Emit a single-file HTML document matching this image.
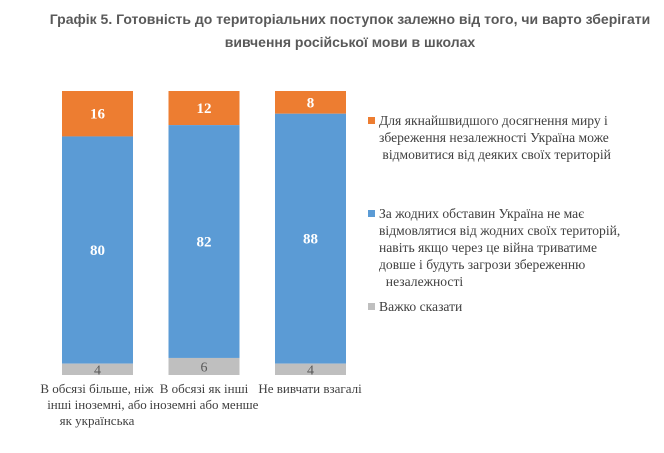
<!DOCTYPE html>
<html><head><meta charset="utf-8"><style>
body{margin:0;background:#fff;width:664px;height:453px;overflow:hidden;position:relative;font-family:"Liberation Serif",serif}
#title{position:absolute;left:30px;width:640px;top:8px;text-align:center;font:bold 14px/23px "Liberation Sans",sans-serif;color:#595959}
.leg{position:absolute;left:368px;font-size:13.6px;line-height:17px;color:#404040;width:255px}
.leg i{position:absolute;left:0;top:5px;width:7px;height:7px}
.leg span{display:block;margin-left:11px;text-align:center}
.xl{position:absolute;font-size:13px;line-height:16px;color:#404040;text-align:center;white-space:nowrap}
</style></head><body>
<div id="title">Графік 5. Готовність до територіальних поступок залежно від того, чи варто зберігати<br>вивчення російської мови в школах</div>
<svg id="chart" width="664" height="453" style="position:absolute;left:0;top:0"></svg>
<div class="leg" style="top:112px"><i style="background:#ed7d31"></i><span style="text-align:left">Для якнайшвидшого досягнення миру і збереження незалежності Україна може<br>&nbsp;відмовитися від деяких своїх територій</span></div>
<div class="leg" style="top:205px"><i style="background:#5b9bd5"></i><span style="text-align:left">За жодних обставин Україна не має відмовлятися від жодних своїх територій, навіть якщо через це війна триватиме довше і будуть загрози збереженню<br>&nbsp;&nbsp;незалежності</span></div>
<div class="leg" style="top:298px"><i style="background:#bfbfbf"></i><span style="text-align:left">Важко сказати</span></div>
<div class="xl" style="left:37px;width:120px;top:381px">В обсязі більше, ніж<br>інші іноземні, або<br>як українська</div>
<div class="xl" style="left:146px;width:116px;top:381px">В обсязі як інші<br>іноземні або менше</div>
<div class="xl" style="left:252px;width:116px;top:381px">Не вивчати взагалі</div>
<script>
const categories=["В обсязі більше","В обсязі як інші","Не вивчати взагалі"];
const concede=[16,12,8];
const noConcede=[80,82,88];
const hard=[4,6,4];
const colors=["#ed7d31","#5b9bd5","#bfbfbf"];
const svg=document.getElementById('chart');
const NS="http://www.w3.org/2000/svg";
const y0=375,H=284,barW=71;
const xs=i=>62+i*106.5;
const yScale=v=>v/100*H;
categories.forEach((c,i)=>{
  const series=[[concede[i],0],[noConcede[i],1],[hard[i],2]];
  const total=concede[i]+noConcede[i]+hard[i];
  let y=y0-yScale(total);
  series.forEach(([v,k])=>{
    const h=yScale(v);
    const r=document.createElementNS(NS,'rect');
    r.setAttribute('x',xs(i));r.setAttribute('y',y);r.setAttribute('width',barW);r.setAttribute('height',h);r.setAttribute('fill',colors[k]);
    
    
    svg.appendChild(r);
    const t=document.createElementNS(NS,'text');
    t.setAttribute('x',xs(i)+barW/2);t.setAttribute('y',y+h/2+5);t.setAttribute('text-anchor','middle');
    t.setAttribute('font-family','Liberation Serif, serif');
    if(k<2){t.setAttribute('fill','#fff');t.setAttribute('font-weight','bold');t.setAttribute('font-size','15');}
    else{t.setAttribute('fill','#595959');t.setAttribute('font-size','14');}
    t.textContent=v;
    
    
    svg.appendChild(t);
    y+=h;
  });
});
</script>
</body></html>
